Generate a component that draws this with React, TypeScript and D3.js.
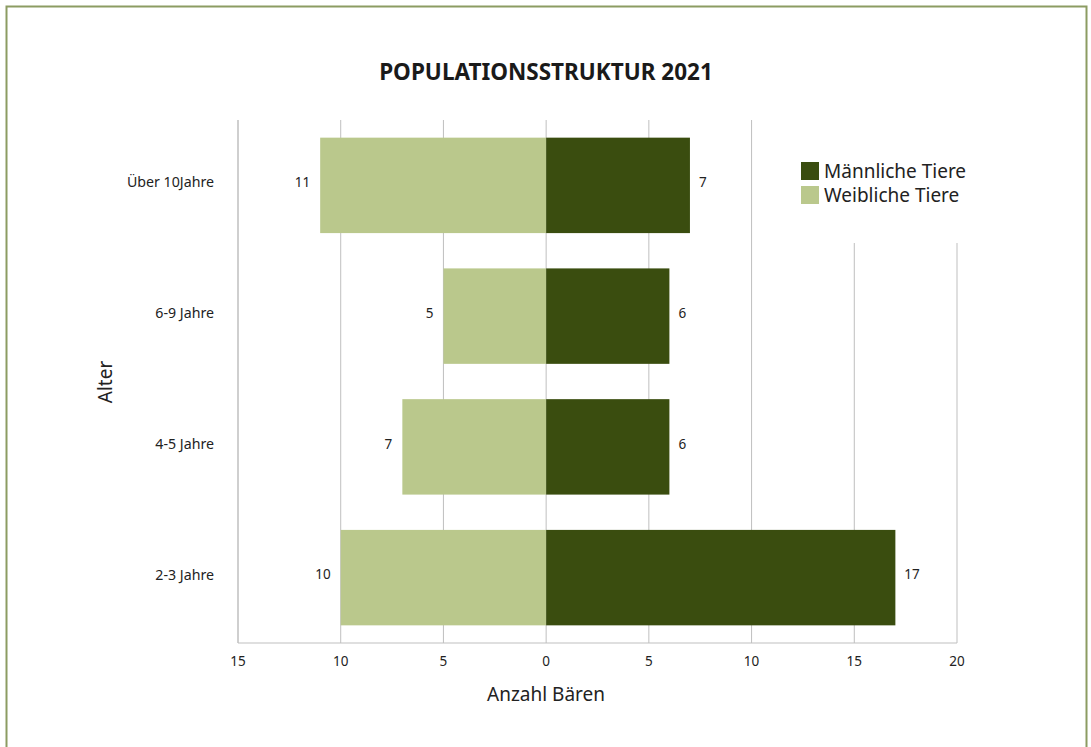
import React from "react";
import * as d3 from "d3";

// Age groups, top to bottom
const ageGroups: string[] = ["Über 10Jahre", "6-9 Jahre", "4-5 Jahre", "2-3 Jahre"];
// Number of male bears per age group
const maleCounts: number[] = [7, 6, 6, 17];
// Number of female bears per age group (drawn to the left of zero)
const femaleCounts: number[] = [11, 5, 7, 10];
// Axis ticks (absolute values shown as labels)
const xTicks: number[] = [-15, -10, -5, 0, 5, 10, 15, 20];

const seriesNames = ["Männliche Tiere", "Weibliche Tiere"];
const MALE = "#3a4d0f";
const FEMALE = "#bac88c";
const FONT = "'Noto Sans', 'Open Sans', sans-serif";

export default function App() {
  const W = 1091;
  const H = 747;
  const plot = { left: 238, right: 957, top: 120, bottom: 643 };

  const x = d3.scaleLinear().domain([-15, 20]).range([plot.left, plot.right]);
  const y = d3
    .scaleBand<string>()
    .domain(ageGroups)
    .range([plot.top, plot.bottom])
    .paddingInner(0.27)
    .paddingOuter(0.135);

  const legendBox = { x: 780, y: 120, w: 205, h: 123 };

  return (
    <svg
      width={W}
      height={H}
      style={{ position: "absolute", left: 0, top: 0, background: "#fff" }}
      fontFamily={FONT}
    >
      <rect x={0} y={0} width={W} height={H} fill="#fff" />
      {/* outer frame */}
      <path
        d={`M6.5,${H} V6.5 H1086.5 V${H}`}
        fill="none"
        stroke="#8c9c62"
        strokeWidth={2}
      />

      <text
        x={546}
        y={80}
        textAnchor="middle"
        fontSize={22.5}
        fontWeight={700}
        fill="#1a1a1a"
      >
        POPULATIONSSTRUKTUR 2021
      </text>

      {/* vertical gridlines */}
      {xTicks.map((t) => (
        <line
          key={t}
          x1={x(t)}
          x2={x(t)}
          y1={plot.top}
          y2={plot.bottom}
          stroke="#bfbfbf"
          strokeWidth={1}
        />
      ))}

      {/* bars */}
      {ageGroups.map((g, i) => {
        const y0 = y(g) as number;
        const bh = y.bandwidth();
        const cy = y0 + bh / 2 - 3;
        return (
          <g key={g}>
            <rect
              x={x(-femaleCounts[i])}
              y={y0}
              width={x(0) - x(-femaleCounts[i])}
              height={bh}
              fill={FEMALE}
            />
            <rect
              x={x(0)}
              y={y0}
              width={x(maleCounts[i]) - x(0)}
              height={bh}
              fill={MALE}
            />
            <text
              x={x(-femaleCounts[i]) - 10}
              y={cy}
              dy="0.35em"
              textAnchor="end"
              fontSize={13.5}
              fill="#222"
            >
              {femaleCounts[i]}
            </text>
            <text
              x={x(maleCounts[i]) + 9}
              y={cy}
              dy="0.35em"
              textAnchor="start"
              fontSize={13.5}
              fill="#222"
            >
              {maleCounts[i]}
            </text>
            <text
              x={214}
              y={cy}
              dy="0.35em"
              textAnchor="end"
              fontSize={14.2}
              fill="#222"
            >
              {g}
            </text>
          </g>
        );
      })}

      {/* axes lines */}
      <line x1={plot.left} x2={plot.right} y1={plot.bottom} y2={plot.bottom} stroke="#bfbfbf" />
      <line x1={plot.left} x2={plot.left} y1={plot.top} y2={plot.bottom} stroke="#bfbfbf" />

      {/* x tick labels */}
      {xTicks.map((t) => (
        <text
          key={t}
          x={x(t)}
          y={661}
          dy="0.35em"
          textAnchor="middle"
          fontSize={13.5}
          fill="#222"
        >
          {Math.abs(t)}
        </text>
      ))}

      <text x={546} y={701} textAnchor="middle" fontSize={19} fill="#222">
        Anzahl Bären
      </text>
      <text
        transform="translate(112,382) rotate(-90)"
        textAnchor="middle"
        fontSize={19}
        fill="#222"
      >
        Alter
      </text>

      {/* legend */}
      <rect x={legendBox.x} y={legendBox.y} width={legendBox.w} height={legendBox.h} fill="#fff" />
      {seriesNames.map((s, i) => (
        <g key={s} transform={`translate(801,${162 + i * 24})`}>
          <rect x={0} y={0} width={18} height={18} fill={i === 0 ? MALE : FEMALE} />
          <text x={23} y={9} dy="0.35em" fontSize={19} fill="#222">
            {s}
          </text>
        </g>
      ))}
    </svg>
  );
}
